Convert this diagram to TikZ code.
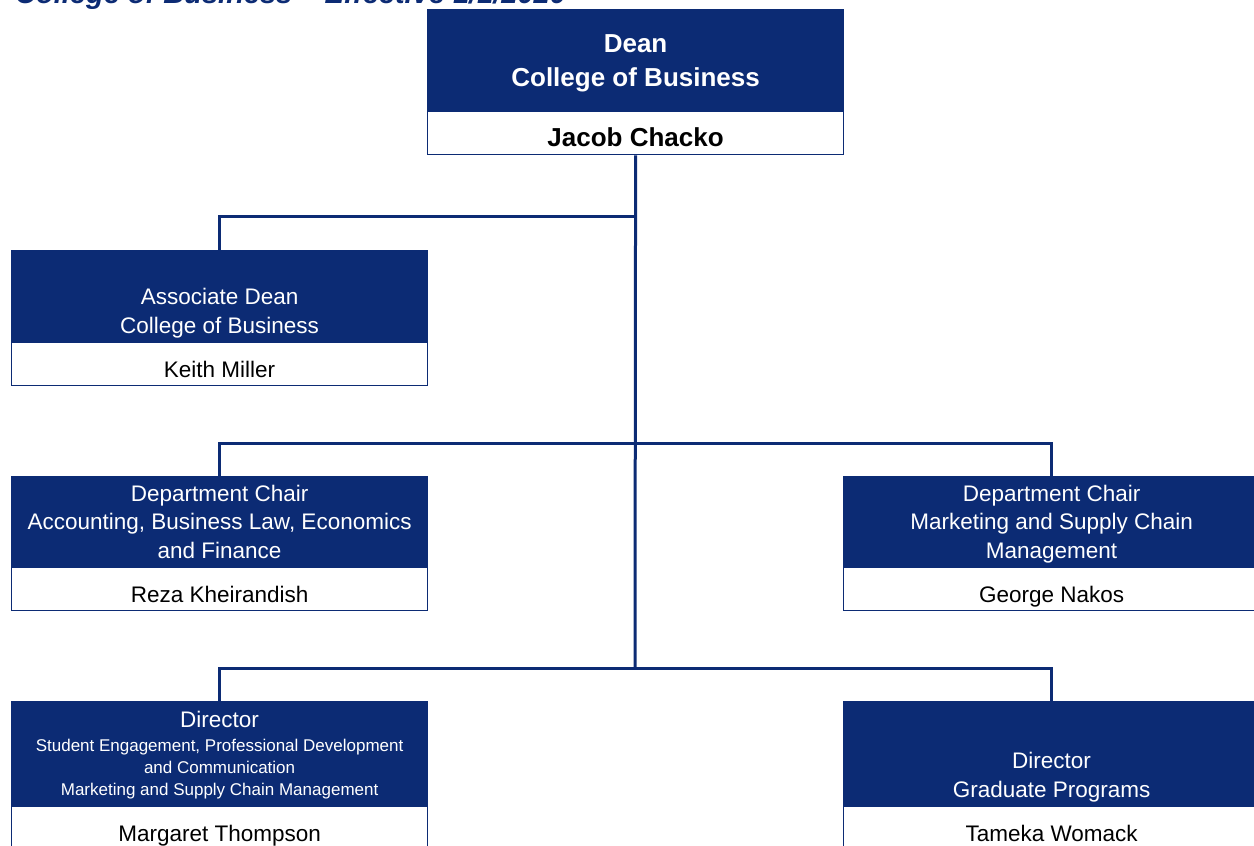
\documentclass[tikz,border=0pt]{standalone}
\usepackage{fontspec}
\setmainfont{Liberation Sans}
\usetikzlibrary{positioning}

\definecolor{navy}{RGB}{12,43,116}

\tikzset{
	titlebox/.style={draw=navy, fill=navy, line width=1.2pt, text=white, minimum width=416pt, inner sep=0pt, text depth=0pt, align=center, anchor=north west, font=\fontsize{22.5}{28.5}\selectfont},
	boxtext/.style={text=white, align=center, inner sep=0pt, text depth=0pt, font=\fontsize{22.5}{28.5}\selectfont},
	namebox/.style={draw=navy, fill=white, line width=1.2pt, minimum width=416pt, minimum height=43pt, inner sep=0pt, text height=26pt, text depth=0pt, font=\fontsize{22.5}{27}\selectfont},
	link/.style={draw=navy, line width=3pt},
}

\begin{document}
\begin{tikzpicture}[x=1pt, y=-1pt]
		\useasboundingbox (0,0) rectangle (1254,846);
		\clip (0,0) rectangle (1254,846);

		% Heading, cut by the top edge
		\node[anchor=base west, inner sep=0pt, text=navy, font=\bfseries\itshape\fontsize{29}{34}\selectfont] (heading) at (15,3.5) {College of Business – Effective 1/1/2020};

		% Dean
		\node[titlebox, minimum height=101pt, font=\bfseries\fontsize{26}{34}\selectfont] (dean) at (427,9) {Dean\\College of Business};
		\node[namebox, below=0pt of dean, font=\bfseries\fontsize{26}{30}\selectfont] (jacob) {Jacob Chacko};

		% Associate dean
		\node[titlebox, minimum height=91pt, label={[boxtext, yshift=-14.5pt]center:Associate Dean\\College of Business}] (assoc) at (11,250) {};
		\node[namebox, below=0pt of assoc] (keith) {Keith Miller};

		% Department chairs
		\node[titlebox, minimum height=90pt] (acct) at (11,476) {Department Chair\\Accounting, Business Law, Economics\\and Finance};
		\node[namebox, below=0pt of acct] (reza) {Reza Kheirandish};
		\node[titlebox, minimum height=90pt] (mktg) at (843,476) {Department Chair\\Marketing and Supply Chain\\Management};
		\node[namebox, below=0pt of mktg] (george) {George Nakos};

		% Directors
		\node[titlebox, minimum height=104pt, font=\fontsize{17}{22}\selectfont] (sepd) at (11,701) {{\fontsize{22.5}{27}\selectfont Director}\\[2pt]Student Engagement, Professional Development\\and Communication\\Marketing and Supply Chain Management};
		\node[namebox, below=0pt of sepd] (margaret) {Margaret Thompson};
		\node[titlebox, minimum height=104pt, label={[boxtext, yshift=-21pt]center:Director\\Graduate Programs}] (grad) at (843,701) {};
		\node[namebox, below=0pt of grad] (tameka) {Tameka Womack};

		% Connectors
		\coordinate (j1) at (635,216);
		\coordinate (j2) at (635,443);
		\coordinate (j3) at (635,668);
		\draw[link] (jacob.south) -- (j3);
		\draw[link] (j1) -| (assoc.north);
		\draw[link] (acct.north) |- (j2) -| (mktg.north);
		\draw[link] (sepd.north) |- (j3) -| (grad.north);
	\end{tikzpicture}
\end{document}
